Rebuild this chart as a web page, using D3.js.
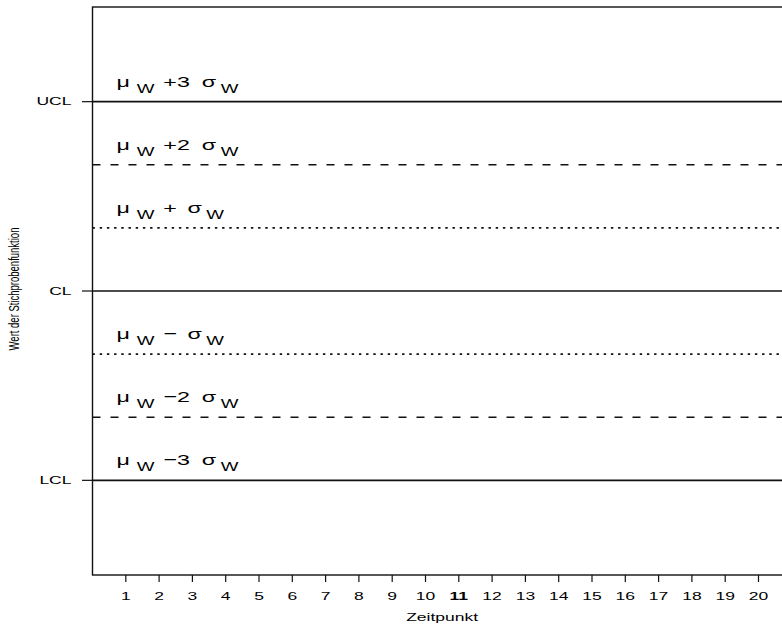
<!DOCTYPE html>
<html>
<head>
<meta charset="utf-8">
<script src="https://cdn.jsdelivr.net/npm/d3@7"></script>
<style>
  html, body { margin: 0; padding: 0; background: #fff; }
  svg { display: block; font-family: "Liberation Sans", Arial, sans-serif; }
</style>
</head>
<body>
<svg id="chart" width="782" height="625"></svg>
<script>
// Control-chart levels in units of sigma around the centre line
const levels = [3, 2, 1, 0, -1, -2, -3];
const levelOps = ["+3", "+2", "+", null, "\u2212", "\u22122", "\u22123"];
const levelDash = ["solid", "dashed", "dotted", "solid", "dotted", "dashed", "solid"];

// Labelled y ticks
const yTickValues = [-3, 0, 3];
const yTickLabels = ["LCL", "CL", "UCL"];

// Sample time points on the x axis
const timePoints = [1, 2, 3, 4, 5, 6, 7, 8, 9, 10, 11, 12, 13, 14, 15, 16, 17, 18, 19, 20];
const boldTimePoints = [11];

const xTitle = "Zeitpunkt";
const yTitle = "Wert der Stichprobenfunktion";

// Text is drawn horizontally widened
const SX = 1.75;
const SX_LABEL = 1.5;
const AXIS_FONT = 10;
const MAIN_FONT = 15.5;
const SUB_FONT = 12.5;

const svg = d3.select("#chart");

const plot = { left: 92.5, top: 7, bottom: 575 };
const unit = 33.3;

const x = d3.scaleLinear().domain([0, 21]).range([plot.left, plot.left + 21 * unit]);
const y = d3.scaleLinear().domain([-4.5, 4.5]).range([plot.bottom, plot.top]);

const dashArrays = { solid: null, dashed: "8,10", dotted: "2.4,4.8" };

// Horizontal reference lines
svg.append("g").selectAll("line")
  .data(levels)
  .join("line")
  .attr("x1", x(0))
  .attr("x2", x(21) + 20)
  .attr("y1", d => y(d))
  .attr("y2", d => y(d))
  .attr("stroke", "#111")
  .attr("stroke-width", 1.6)
  .attr("stroke-dasharray", (d, i) => dashArrays[levelDash[i]]);

// Plot frame
svg.append("rect")
  .attr("x", x(0))
  .attr("y", y(4.5))
  .attr("width", x(21) + 40 - x(0))
  .attr("height", y(-4.5) - y(4.5))
  .attr("fill", "none")
  .attr("stroke", "#111")
  .attr("stroke-width", 1.4);

// Widened text helper
function wideText(parent, tx, ty, str, size, anchor) {
  return parent.append("text")
    .attr("transform", `translate(${tx},${ty}) scale(${SX},1)`)
    .attr("text-anchor", anchor || "start")
    .attr("font-size", size)
    .attr("fill", "#000")
    .text(str);
}

// Level annotations: mu_W ± k sigma_W
const ann = svg.append("g");
levels.forEach((v, i) => {
  const op = levelOps[i];
  if (op === null) return;
  const t = ann.append("text")
    .attr("transform", `translate(116.5,${y(v) - 15}) scale(${SX_LABEL},1)`)
    .attr("fill", "#000")
    .attr("font-size", MAIN_FONT);
  t.append("tspan").text("\u03bc");
  t.append("tspan").attr("font-size", SUB_FONT).attr("dx", 4.5).attr("dy", 6).text("W");
  t.append("tspan").attr("dx", 6).attr("dy", -6).text(op);
  t.append("tspan").attr("dx", op.length > 1 ? 8 : 7).text("\u03c3");
  t.append("tspan").attr("font-size", SUB_FONT).attr("dx", 3).attr("dy", 6).text("W");
});

// Y axis ticks and labels
const yAxis = svg.append("g");
yAxis.selectAll("line")
  .data(yTickValues)
  .join("line")
  .attr("x1", 82).attr("x2", x(0))
  .attr("y1", d => y(d)).attr("y2", d => y(d))
  .attr("stroke", "#111").attr("stroke-width", 1.2);
yTickValues.forEach((v, i) => {
  wideText(yAxis, 71.5, y(v) + 3.6, yTickLabels[i], AXIS_FONT, "end");
});

// X axis ticks and labels
const xAxis = svg.append("g");
xAxis.selectAll("line")
  .data(timePoints)
  .join("line")
  .attr("x1", d => x(d)).attr("x2", d => x(d))
  .attr("y1", plot.bottom).attr("y2", plot.bottom + 7)
  .attr("stroke", "#111").attr("stroke-width", 1.2);
timePoints.forEach(v => {
  wideText(xAxis, x(v), 599.5, String(v), AXIS_FONT, "middle")
    .attr("font-weight", boldTimePoints.includes(v) ? "bold" : null);
});

// Axis titles
wideText(svg, (x(0) + x(21)) / 2, 621, xTitle, AXIS_FONT, "middle");
svg.append("text")
  .attr("transform", `translate(18.5,${(y(4.5) + y(-4.5)) / 2 - 2}) scale(1.5,1) rotate(-90)`)
  .attr("text-anchor", "middle")
  .attr("font-size", 9.5)
  .attr("fill", "#000")
  .text(yTitle);
</script>
</body>
</html>
